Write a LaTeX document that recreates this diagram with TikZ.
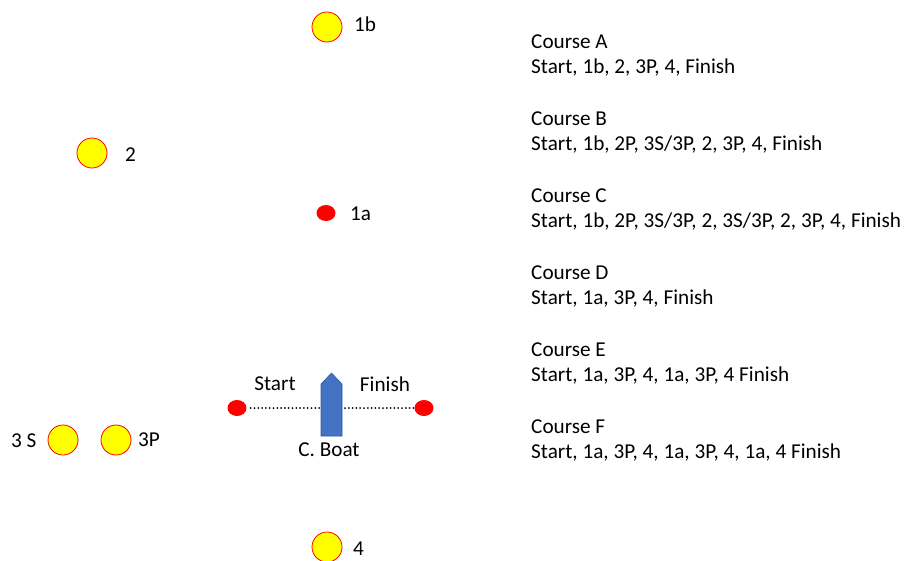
\documentclass[tikz,border=0pt]{standalone}
\usepackage{fontspec}
\setmainfont{Carlito}
\usetikzlibrary{shapes.geometric}
\definecolor{markfill}{RGB}{255,255,0}
\definecolor{markline}{RGB}{255,0,0}
\definecolor{boatblue}{RGB}{68,114,196}

\begin{document}
\begin{tikzpicture}[x=1pt, y=-1pt,
  txt/.style={font=\fontsize{21.2}{25}\selectfont, inner sep=0pt},
  buoy/.style={circle, draw=markline, line width=0.8pt, fill=markfill,
    minimum size=30pt, inner sep=0pt},
  pin/.style={ellipse, fill=markline, minimum width=19pt,
    minimum height=16pt, inner sep=0pt},
  lineup/.style={line width=2pt, line cap=round,
    dash pattern=on 0pt off 3.8pt}]
\useasboundingbox (0,0) rectangle (904,560);
% course marks
\node[buoy] (m1b) at (327,27) {};
\node[buoy] (m2) at (92,153) {};
\node[pin] (m1a) at (326,213) {};
\node[buoy] (m3S) at (63,440) {};
\node[buoy] (m3P) at (116,440) {};
\node[buoy] (m4) at (327,547) {};
\node[txt, anchor=west] (l1b) at (354,24) {1b};
\node[txt, anchor=west] (l2) at (125,155) {2};
\node[txt, anchor=west] (l1a) at (350,214) {1a};
\node[txt, anchor=west] (l3S) at (11,441) {3 S};
\node[txt, anchor=west] (l3P) at (138,440) {3P};
\node[txt, anchor=west] (l4) at (353,549) {4};
% start line
\node[pin] (pstart) at (237,408) {};
\node[pin] (pfinish) at (424,408) {};
\draw[fill=boatblue, draw=boatblue!80!black, line width=0.6pt]
  (321,436) -- (321,384) -- (331.5,373) -- (342,384) -- (342,436) -- cycle;
\coordinate (bw) at (321,408);
\coordinate (be) at (342,408);
\draw[lineup] ([xshift=4pt]pstart.east) -- (bw);
\draw[lineup] ([xshift=3pt]be) -- (pfinish.west);
\node[txt] (lstart) at (275,384) {Start};
\node[txt] (lfinish) at (385,384) {Finish};
\node[txt] (lboat) at (329,450) {C. Boat};
% courses
\foreach \course/\route [count=\i from 0] in {
  A/{Start, 1b, 2, 3P, 4, Finish},
  B/{Start, 1b, 2P, 3S/3P, 2, 3P, 4, Finish},
  C/{Start, 1b, 2P, 3S/3P, 2, 3S/3P, 2, 3P, 4, Finish},
  D/{Start, 1a, 3P, 4, Finish},
  E/{Start, 1a, 3P, 4, 1a, 3P, 4 Finish},
  F/{Start, 1a, 3P, 4, 1a, 3P, 4, 1a, 4 Finish}} {
  \node[txt, anchor=base west] (c\course) at (531,48+77*\i) {Course \course};
  \node[txt, anchor=base west] (r\course) at (531,73+77*\i) {\route};
}
\end{tikzpicture}
\end{document}
